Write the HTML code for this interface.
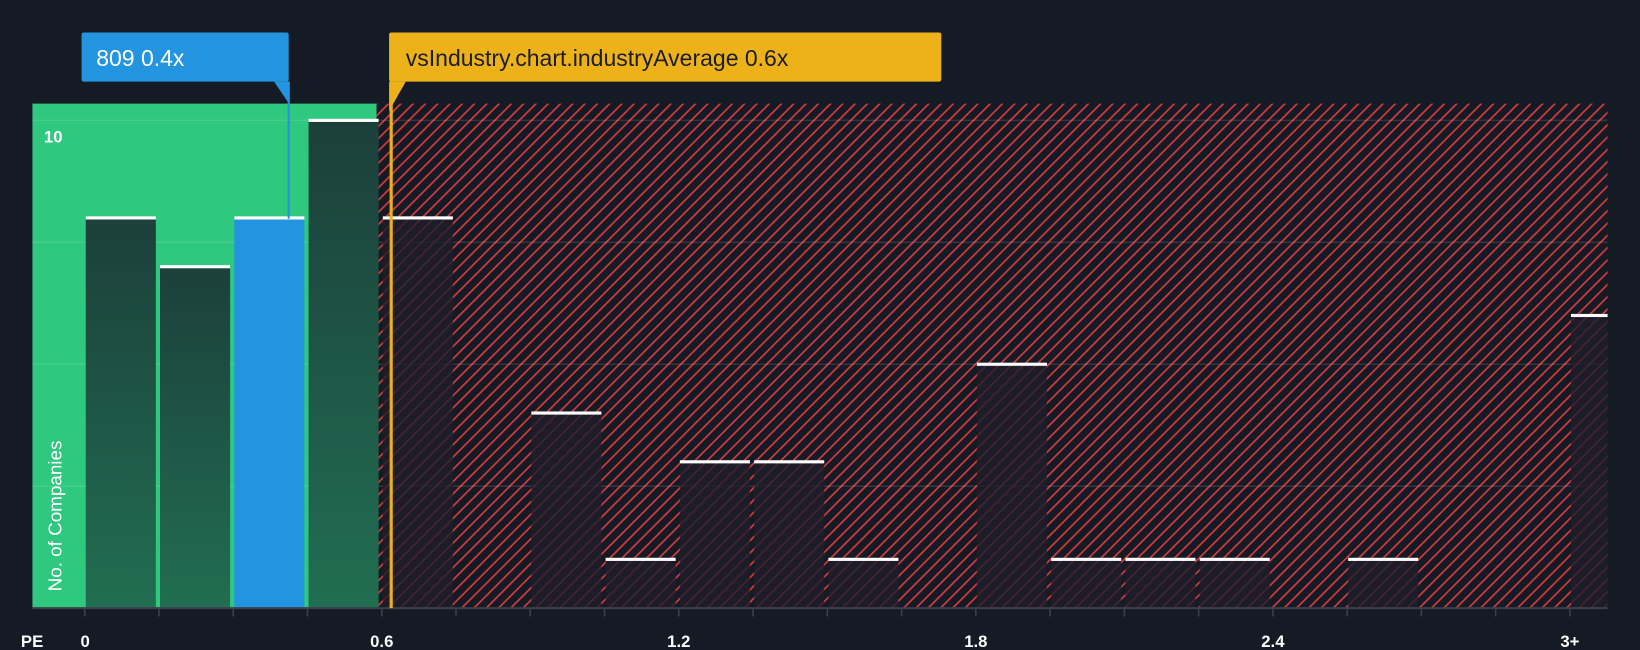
<!DOCTYPE html>
<html><head><meta charset="utf-8"><style>
html,body{margin:0;padding:0;background:#151b24;}
svg{display:block;font-family:"Liberation Sans",sans-serif;}
</style></head><body>
<svg width="1640" height="650" viewBox="0 0 1568 621" preserveAspectRatio="none" xmlns="http://www.w3.org/2000/svg">
<defs>
<pattern id="hatch" patternUnits="userSpaceOnUse" width="8.3" height="8.3" patternTransform="rotate(45)">
<rect width="8.3" height="8.3" fill="#151b24"/>
<rect x="0" y="0" width="1.6" height="8.3" fill="#d93a40"/>
</pattern>
<linearGradient id="greenBar" x1="0" y1="0" x2="0" y2="1">
<stop offset="0" stop-color="#1c3f3a"/>
<stop offset="1" stop-color="#216e52"/>
</linearGradient>
</defs>
<rect width="1568" height="621" fill="#151b24"/>
<rect x="31" y="99" width="329" height="482" fill="#2ec87e"/>
<rect x="360" y="99" width="1177" height="482" fill="url(#hatch)"/>
<g id="grid"></g>
<g id="bars"></g>
<g id="axis"></g>
<text x="42" y="136" fill="#fff" font-size="16" font-weight="bold">10</text>
<text transform="translate(59,565) rotate(-90)" fill="#fff" font-size="18">No. of Companies</text>
<text x="20" y="618" fill="#fff" font-size="16" font-weight="bold">PE</text>
<line x1="276" y1="78" x2="276" y2="209" stroke="#2394e0" stroke-width="2"/>
<polygon points="262,78 277,78 277,100" fill="#2394e0"/>
<rect x="78" y="31" width="198" height="47" rx="2" fill="#2394e0"/>
<text x="92" y="63" fill="#fff" font-size="22">809 0.4x</text>
<line x1="374" y1="78" x2="374" y2="581" stroke="#edb21a" stroke-width="3"/>
<polygon points="372,78 388,78 372,106" fill="#edb21a"/>
<rect x="372" y="31" width="528" height="47" rx="2" fill="#edb21a"/>
<text x="388" y="63" fill="#1a1d24" font-size="22">vsIndustry.chart.industryAverage 0.6x</text>
</svg>
<script>
const binCounts = [8,7,8,10,8,0,4,1,3,3,1,0,5,1,1,1,0,1,0,0,6];
const tickLabels = ["0","0.6","1.2","1.8","2.4","3+"];
const tickValues = [0,0.6,1.2,1.8,2.4,3.0];
const companyBin = 2;
const binWidthValue = 0.15;
const NS = "http://www.w3.org/2000/svg";
const x0 = 81, pxPerUnit = 284/0.6, yBase = 581, pxPerCount = 46.6, plotRight = 1537;
const xs = v => x0 + v*pxPerUnit;
const ys = c => yBase - c*pxPerCount;
function mk(tag, attrs, parent){const e=document.createElementNS(NS,tag);for(const k in attrs)e.setAttribute(k,attrs[k]);parent.appendChild(e);return e;}
const grid=document.getElementById('grid'), bars=document.getElementById('bars'), axis=document.getElementById('axis');
[2.5,5,7.5,10].forEach(v=>{
  const l=mk('line',{x1:31,x2:plotRight,y1:ys(v),y2:ys(v),stroke:'rgba(255,255,255,0.12)','stroke-width':1.5},grid);
  
  
});
binCounts.forEach((c,i)=>{
  if(!c) return;
  const xa=xs(i*binWidthValue)+1, xb=Math.min(xs((i+1)*binWidthValue)-3, plotRight);
  const green = xb<=362;
  let fill = i===companyBin ? '#2394e0' : (green ? 'url(#greenBar)' : 'rgba(30,30,42,0.8)');
  const r=mk('rect',{x:xa,y:ys(c),width:xb-xa,height:yBase-ys(c),fill:fill},bars);
  
  
  const t=mk('rect',{x:xa,y:ys(c)-1.5,width:xb-xa,height:3,fill:'#fff'},bars);
  
  
});
const al=mk('line',{x1:31,x2:plotRight,y1:yBase,y2:yBase,stroke:'#3a404a','stroke-width':2},axis);


for(let i=0;i<=20;i++){
  const x=xs(i*binWidthValue);
  const tk=mk('line',{x1:x,x2:x,y1:yBase,y2:yBase+8,stroke:'#3a404a','stroke-width':1.5},axis);
  
  
}
tickLabels.forEach((s,i)=>{
  const t=mk('text',{x:xs(tickValues[i]),y:618,fill:'#fff','font-size':16,'font-weight':'bold','text-anchor':i===0?'start':'middle'},axis);
  if(i===0) t.setAttribute('x', xs(0)-4);
  t.textContent=s;
  
  
});
</script>
</body></html>
